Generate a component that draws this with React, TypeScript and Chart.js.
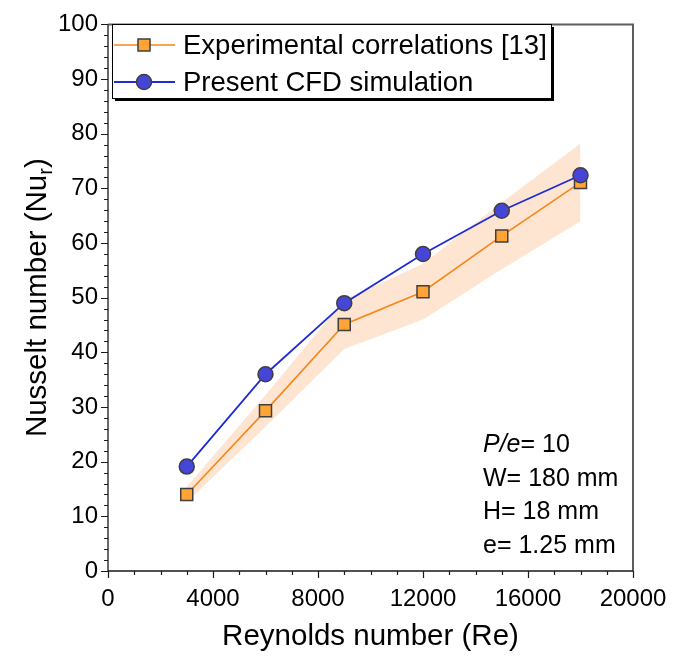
import React, { useEffect, useRef } from 'react';
import { Chart, registerables } from 'chart.js';

Chart.register(...registerables);

// ---- data ----
const reynolds = [3000, 6000, 9000, 12000, 15000, 18000];
const experimental = [14.0, 29.3, 45.1, 51.1, 61.3, 71.1];
const cfd = [19.1, 36.0, 49.0, 58.0, 65.9, 72.4];
const bandUpper = [15.4, 32.2, 49.6, 56.2, 67.4, 78.2];
const bandLower = [12.6, 26.4, 40.6, 46.0, 55.2, 64.0];

const xTickLabels = ['0', '4000', '8000', '12000', '16000', '20000'];
const yTickLabels = ['0', '10', '20', '30', '40', '50', '60', '70', '80', '90', '100'];

const seriesLabels = ['Experimental correlations [13]', 'Present CFD simulation'];
const annotationLines: [string, string][] = [
  ['P/e', '= 10'],
  ['', 'W= 180 mm'],
  ['', 'H= 18 mm'],
  ['', 'e= 1.25 mm'],
];
const xTitle = 'Reynolds number (Re)';
const yTitleMain = 'Nusselt number (Nu';
const yTitleSub = 'r';
const yTitleEnd = ')';

const FONT = '"Liberation Sans", Arial, Helvetica, sans-serif';
const ORANGE_LINE = '#f7861c';
const ORANGE_FILL = '#ffa435';
const BLUE_LINE = '#1f2bd8';
const BLUE_FILL = '#4545d8';
const MARKER_BORDER = '#3f3f3f';
const BAND = '#fde5d2';

const decorPlugin = {
  id: 'decor',
  afterDraw(chart: any) {
    const ctx = chart.ctx as CanvasRenderingContext2D;
    const xs = chart.scales.x;
    const ys = chart.scales.y;
    const { left, right, top, bottom } = chart.chartArea;
    ctx.save();

    // frame top / right
    ctx.strokeStyle = '#5e5e5e';
    ctx.lineWidth = 2;
    ctx.beginPath();
    ctx.moveTo(left, top);
    ctx.lineTo(right, top);
    ctx.lineTo(right, bottom);
    ctx.stroke();

    // axes
    ctx.strokeStyle = '#1a1a1a';
    ctx.lineWidth = 1.3;
    ctx.beginPath();
    ctx.moveTo(left, top);
    ctx.lineTo(left, bottom);
    ctx.lineTo(right, bottom);
    ctx.stroke();

    // ticks
    ctx.lineWidth = 1.2;
    ctx.beginPath();
    for (let v = xs.min; v <= xs.max + 1e-6; v += 1000) {
      const px = Math.round(xs.getPixelForValue(v)) + 0.5;
      const major = v % 4000 === 0;
      ctx.moveTo(px, bottom);
      ctx.lineTo(px, bottom + (major ? 7 : 4));
    }
    for (let v = ys.min; v <= ys.max + 1e-6; v += 2) {
      const py = Math.round(ys.getPixelForValue(v)) + 0.5;
      const major = v % 10 === 0;
      ctx.moveTo(left, py);
      ctx.lineTo(left - (major ? 7 : 4), py);
    }
    ctx.stroke();

    // axis titles
    ctx.fillStyle = '#000';
    ctx.font = `29.5px ${FONT}`;
    ctx.textAlign = 'center';
    ctx.textBaseline = 'middle';
    ctx.fillText(xTitle, (left + right) / 2, 637);

    ctx.save();
    ctx.translate(38, (top + bottom) / 2);
    ctx.rotate(-Math.PI / 2);
    ctx.textAlign = 'left';
    ctx.font = `29.5px ${FONT}`;
    const w1 = ctx.measureText(yTitleMain).width;
    const w3 = ctx.measureText(yTitleEnd).width;
    ctx.font = `20px ${FONT}`;
    const w2 = ctx.measureText(yTitleSub).width;
    let sx = -(w1 + w2 + w3) / 2;
    ctx.font = `29.5px ${FONT}`;
    ctx.fillText(yTitleMain, sx, 0);
    sx += w1;
    ctx.font = `20px ${FONT}`;
    ctx.fillText(yTitleSub, sx, 8);
    sx += w2;
    ctx.font = `29.5px ${FONT}`;
    ctx.fillText(yTitleEnd, sx, 0);
    ctx.restore();

    // annotation
    ctx.textAlign = 'left';
    ctx.textBaseline = 'alphabetic';
    annotationLines.forEach((ln, i) => {
      const y = 452 + i * 33.7;
      let x = 483;
      if (ln[0]) {
        ctx.font = `italic 25px ${FONT}`;
        ctx.fillText(ln[0], x, y);
        x += ctx.measureText(ln[0]).width;
      }
      ctx.font = `25px ${FONT}`;
      ctx.fillText(ln[1], x, y);
    });

    // legend
    const bx = 112, by = 24, bw = 439, bh = 74;
    ctx.fillStyle = '#000';
    ctx.fillRect(bx + 3, by + 3, bw, bh);
    ctx.fillStyle = '#fff';
    ctx.fillRect(bx, by, bw, bh);
    ctx.strokeStyle = '#000';
    ctx.lineWidth = 1;
    ctx.strokeRect(bx + 0.5, by + 0.5, bw, bh);

    const rows = [
      { y: 45, line: ORANGE_LINE, fill: ORANGE_FILL, square: true, lw: 1.6 },
      { y: 82, line: BLUE_LINE, fill: BLUE_FILL, square: false, lw: 1.8 },
    ];
    rows.forEach((r, i) => {
      ctx.strokeStyle = r.line;
      ctx.lineWidth = r.lw;
      ctx.beginPath();
      ctx.moveTo(114, r.y);
      ctx.lineTo(175, r.y);
      ctx.stroke();
      ctx.fillStyle = r.fill;
      ctx.strokeStyle = MARKER_BORDER;
      ctx.lineWidth = 1.5;
      ctx.beginPath();
      if (r.square) ctx.rect(138, r.y - 6, 12, 12);
      else ctx.arc(144, r.y, 7.5, 0, Math.PI * 2);
      ctx.fill();
      ctx.stroke();
      ctx.fillStyle = '#000';
      ctx.font = `27.5px ${FONT}`;
      ctx.textBaseline = 'middle';
      ctx.fillText(seriesLabels[i], 183, r.y + 1);
    });

    ctx.restore();
  },
};

export default function App() {
  const ref = useRef<HTMLCanvasElement>(null);

  useEffect(() => {
    if (!ref.current) return;
    const chart = new Chart(ref.current, {
      type: 'line',
      data: {
        datasets: [
          {
            label: seriesLabels[1],
            data: reynolds.map((x, i) => ({ x, y: cfd[i] })),
            borderColor: BLUE_LINE,
            borderWidth: 1.8,
            backgroundColor: BLUE_FILL,
            pointBackgroundColor: BLUE_FILL,
            pointBorderColor: MARKER_BORDER,
            pointBorderWidth: 1.5,
            pointRadius: 7.5,
            pointStyle: 'circle',
            fill: false,
            order: 0,
          },
          {
            label: seriesLabels[0],
            data: reynolds.map((x, i) => ({ x, y: experimental[i] })),
            borderColor: ORANGE_LINE,
            borderWidth: 1.6,
            backgroundColor: ORANGE_FILL,
            pointBackgroundColor: ORANGE_FILL,
            pointBorderColor: MARKER_BORDER,
            pointBorderWidth: 1.5,
            pointRadius: 8.5,
            pointStyle: 'rect',
            fill: false,
            order: 1,
          },
          {
            label: 'upper',
            data: reynolds.map((x, i) => ({ x, y: bandUpper[i] })),
            borderWidth: 0,
            borderColor: 'rgba(0,0,0,0)',
            backgroundColor: BAND,
            pointRadius: 0,
            fill: '+1',
            order: 2,
          },
          {
            label: 'lower',
            data: reynolds.map((x, i) => ({ x, y: bandLower[i] })),
            borderWidth: 0,
            borderColor: 'rgba(0,0,0,0)',
            backgroundColor: BAND,
            pointRadius: 0,
            fill: false,
            order: 3,
          },
        ],
      },
      options: {
        responsive: false,
        animation: false,
        devicePixelRatio: 1,
        layout: { padding: { top: 20, right: 53, left: 0, bottom: 0 } },
        plugins: {
          legend: { display: false },
          tooltip: { enabled: false },
          title: { display: false },
        },
        scales: {
          x: {
            type: 'linear',
            min: 0,
            max: 20000,
            grid: { display: false, drawTicks: false },
            border: { display: false },
            ticks: {
              stepSize: 4000,
              padding: 14,
              color: '#000',
              font: { family: FONT, size: 24 },
              maxRotation: 0,
              callback: (_v: any, i: number) => xTickLabels[i],
            },
            afterFit: (s: any) => { s.height = 87; },
          },
          y: {
            type: 'linear',
            min: 0,
            max: 100,
            grid: { display: false, drawTicks: false },
            border: { display: false },
            ticks: {
              stepSize: 10,
              padding: 10,
              color: '#000',
              font: { family: FONT, size: 24 },
              callback: (_v: any, i: number) => yTickLabels[i],
            },
            afterFit: (s: any) => { s.width = 108; },
          },
        },
      } as any,
      plugins: [decorPlugin],
    });
    return () => chart.destroy();
  }, []);

  return (
    <div style={{ position: 'fixed', left: 0, top: 0, width: 686, height: 658, background: '#fff' }}>
      <canvas ref={ref} width={686} height={658} style={{ width: 686, height: 658 }} />
    </div>
  );
}
